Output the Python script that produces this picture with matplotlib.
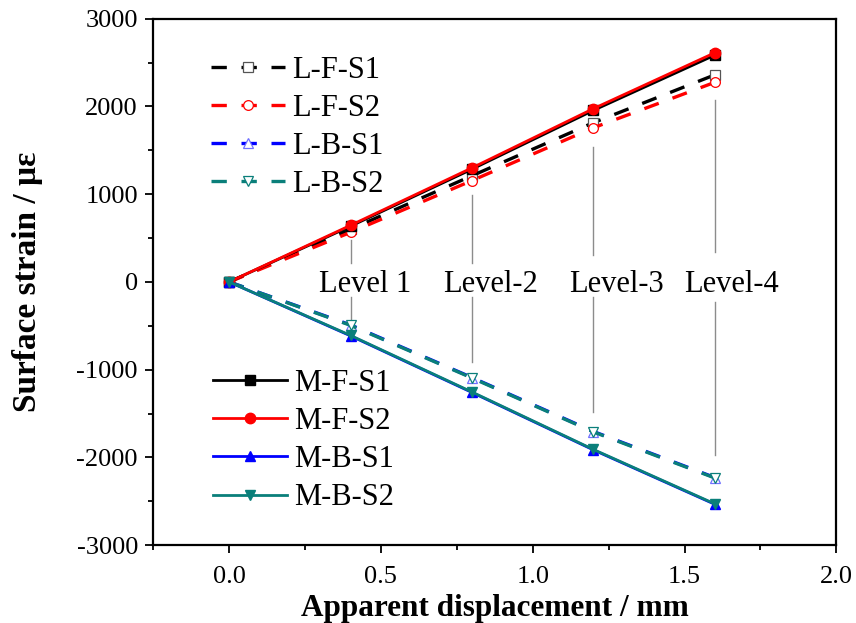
import matplotlib
matplotlib.use("Agg")
import matplotlib.pyplot as plt
from matplotlib.ticker import MultipleLocator

plt.rcParams["font.family"] = ["Liberation Serif", "DejaVu Serif"]
plt.rcParams["axes.unicode_minus"] = False

# Apparent displacement at each loading level (mm)
displacement = [0.0, 0.4, 0.8, 1.2, 1.6]

# Linear-model surface strain (dashed, open markers)
l_f_s1 = [0, 600, 1210, 1815, 2360]
l_f_s2 = [0, 565, 1155, 1757, 2275]
l_b_s1 = [0, -490, -1090, -1705, -2230]
l_b_s2 = [0, -495, -1095, -1710, -2235]

# Measured surface strain (solid, filled markers)
m_f_s1 = [0, 635, 1285, 1955, 2585]
m_f_s2 = [0, 645, 1300, 1975, 2612]
m_b_s1 = [0, -615, -1260, -1915, -2535]
m_b_s2 = [0, -610, -1255, -1910, -2530]

level_labels = ["Level 1", "Level-2", "Level-3", "Level-4"]
level_x = [0.4, 0.8, 1.2, 1.6]

BLACK, RED, BLUE, TEAL = "#000000", "#ff0000", "#0000ff", "#0a7f7a"

fig = plt.figure(figsize=(8.56, 6.23), dpi=100)
ax = fig.add_axes([0.179, 0.125, 0.798, 0.845])

# Leader lines from the loading levels to their labels
lead_top = [(480, 215), (990, 215), (1540, 305), (2075, 340)]
lead_bot = [(-170, -465), (-170, -910), (-170, -1480), (-225, -1970)]
for x, (t0, t1), (b0, b1) in zip(level_x, lead_top, lead_bot):
    ax.plot([x, x], [t0, t1], color="#8c8c8c", lw=1.0, zorder=1)
    ax.plot([x, x], [b0, b1], color="#8c8c8c", lw=1.0, zorder=1)

dash = (0, (4.6, 4.4))
open_kw = dict(markersize=7, markerfacecolor="white", markeredgewidth=0.9, lw=2.4)
lf1, = ax.plot(displacement, l_f_s1, ls=dash, color=BLACK, marker="s",
               markeredgecolor="#555555", label="L-F-S1", zorder=3, **open_kw)
lf2, = ax.plot(displacement, l_f_s2, ls=dash, color=RED, marker="o",
               markeredgecolor=RED, label="L-F-S2", zorder=3, **open_kw)
lb1, = ax.plot(displacement, l_b_s1, ls=dash, color=BLUE, marker="^",
               markeredgecolor="#7070ff", label="L-B-S1", zorder=3, **open_kw)
lb2, = ax.plot(displacement, l_b_s2, ls=dash, color=TEAL, marker="v",
               markeredgecolor=TEAL, label="L-B-S2", zorder=3, **open_kw)

fill_kw = dict(markersize=7.5, lw=2.0, zorder=4)
mf1, = ax.plot(displacement, m_f_s1, color=BLACK, marker="s", label="M-F-S1", **fill_kw)
mf2, = ax.plot(displacement, m_f_s2, color=RED, marker="o", label="M-F-S2", **fill_kw)
mb1, = ax.plot(displacement, m_b_s1, color=BLUE, marker="^", label="M-B-S1", **fill_kw)
mb2, = ax.plot(displacement, m_b_s2, color=TEAL, marker="v", label="M-B-S2", **fill_kw)

level_text_x = [0.447, 0.862, 1.276, 1.655]
for tx, lab in zip(level_text_x, level_labels):
    ax.text(tx, -30, lab, fontsize=22, ha="center", va="center", zorder=2)

ax.set_xlim(-0.25, 2.0)
ax.set_ylim(-3000, 3000)
ax.xaxis.set_major_locator(MultipleLocator(0.5))
ax.xaxis.set_minor_locator(MultipleLocator(0.25))
ax.yaxis.set_major_locator(MultipleLocator(1000))
ax.yaxis.set_minor_locator(MultipleLocator(500))
ax.tick_params(which="both", direction="out", top=False, right=False,
               labelsize=19, width=1.3)
ax.tick_params(axis="x", which="major", length=6, pad=9)
ax.tick_params(axis="y", which="major", length=6, pad=5)
ax.tick_params(which="minor", length=3.5)
for s in ax.spines.values():
    s.set_linewidth(1.6)

ax.set_xlabel("Apparent displacement / mm", fontsize=22.5, fontweight="bold", labelpad=4)
ax.set_ylabel("Surface strain / με", fontsize=24, fontweight="bold", labelpad=24)

leg_kw = dict(frameon=False, fontsize=22, handlelength=2.4, handletextpad=0.25,
              labelspacing=0.3, borderpad=0, borderaxespad=0, numpoints=1)
leg1 = ax.legend(handles=[lf1, lf2, lb1, lb2], loc="upper left",
                 bbox_to_anchor=(0.085, 0.93), **leg_kw)
ax.add_artist(leg1)
ax.legend(handles=[mf1, mf2, mb1, mb2], loc="upper left",
          bbox_to_anchor=(0.088, 0.335), **leg_kw)

fig.savefig("out.png", dpi=100)
